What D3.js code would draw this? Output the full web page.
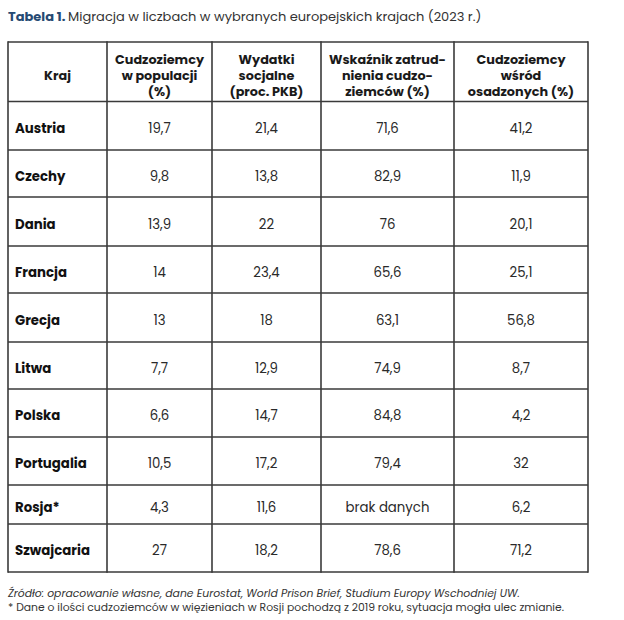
<!DOCTYPE html>
<html>
<head>
<meta charset="utf-8">
<script src="https://cdn.jsdelivr.net/npm/d3@7"></script>
<style>
  body { margin: 0; background: #fff; }
  svg { display: block; }
</style>
</head>
<body>
<svg id="chart" width="624" height="620"></svg>
<script>
// data
const countries = ['Austria', 'Czechy', 'Dania', 'Francja', 'Grecja', 'Litwa', 'Polska', 'Portugalia', 'Rosja*', 'Szwajcaria']
const foreignPop = ['19,7', '9,8', '13,9', '14', '13', '7,7', '6,6', '10,5', '4,3', '27']
const socialSpend = ['21,4', '13,8', '22', '23,4', '18', '12,9', '14,7', '17,2', '11,6', '18,2']
const employment = ['71,6', '82,9', '76', '65,6', '63,1', '74,9', '84,8', '79,4', 'brak danych', '78,6']
const prisoners = ['41,2', '11,9', '20,1', '25,1', '56,8', '8,7', '4,2', '32', '6,2', '71,2']
const headers = [
  ['Kraj'],
  ['Cudzoziemcy', 'w populacji', '(%)'],
  ['Wydatki', 'socjalne', '(proc. PKB)'],
  ['Wskaźnik zatrud-', 'nienia cudzo-', 'ziemców (%)'],
  ['Cudzoziemcy', 'wśród', 'osadzonych (%)']
]

// layout
const font = 'Poppins, "Open Sans", sans-serif'
const colEdges = [8, 107, 212, 321, 454, 588]
const tableTop = 42
const headerH = 59.5
const rowH = [48.5, 47, 49, 47, 49, 47, 48, 48, 39, 48]
const lineColor = '#3a3a3a'

const svg = d3.select('#chart')

// title
const title = svg.append('text')
  .attr('x', 8)
  .attr('y', 21)
  .attr('font-family', font)
  .attr('font-size', 13)
title.append('tspan')
  .attr('font-weight', 700)
  .attr('fill', '#264a73')
  .text('Tabela 1. ')
title.append('tspan')
  .attr('fill', '#333')
  .text('Migracja w liczbach w wybranych europejskich krajach (2023 r.)')

// row edges
const rowTops = [tableTop + headerH]
rowH.forEach((h, i) => rowTops.push(rowTops[i] + h))
const bottom = rowTops[rowTops.length - 1]

const rows = countries.map((c, i) => [c, foreignPop[i], socialSpend[i], employment[i], prisoners[i]])

const g = svg.append('g')

// header text
headers.forEach((lines, ci) => {
  const cx = (colEdges[ci] + colEdges[ci + 1]) / 2
  const cy = tableTop + headerH / 2 + 3.3
  const lh = 16
  g.selectAll('.h' + ci)
    .data(lines)
    .enter().append('text')
    .attr('class', 'h' + ci)
    .attr('x', cx)
    .attr('y', (d, i) => cy + (i - (lines.length - 1) / 2) * lh)
    .attr('dy', '0.35em')
    .attr('text-anchor', 'middle')
    .attr('font-family', font)
    .attr('font-size', 12.8)
    .attr('font-weight', 700)
    .attr('fill', '#1a1a1a')
    .text(d => d)
})

// body cells
const rowG = g.selectAll('.row')
  .data(rows)
  .enter().append('g')
  .attr('class', 'row')
  .attr('transform', (d, i) => `translate(0,${(rowTops[i] + rowTops[i + 1]) / 2})`)

rowG.selectAll('text')
  .data(d => d)
  .enter().append('text')
  .attr('x', (d, i) => i === 0 ? colEdges[0] + 7 : (colEdges[i] + colEdges[i + 1]) / 2)
  .attr('dy', '0.55em')
  .attr('text-anchor', (d, i) => i === 0 ? 'start' : 'middle')
  .attr('font-family', font)
  .attr('font-size', 13.3)
  .attr('font-weight', (d, i) => i === 0 ? 700 : 400)
  .attr('fill', (d, i) => i === 0 ? '#111' : '#2a2a2a')
  .text(d => d)

// grid lines
const hLines = [tableTop].concat(rowTops)
g.selectAll('.hline')
  .data(hLines)
  .enter().append('line')
  .attr('class', 'hline')
  .attr('x1', colEdges[0])
  .attr('x2', colEdges[colEdges.length - 1])
  .attr('y1', d => d)
  .attr('y2', d => d)
  .attr('stroke', lineColor)
  .attr('stroke-width', 1.6)

g.selectAll('.vline')
  .data(colEdges)
  .enter().append('line')
  .attr('class', 'vline')
  .attr('x1', d => d)
  .attr('x2', d => d)
  .attr('y1', tableTop - 0.8)
  .attr('y2', bottom + 0.8)
  .attr('stroke', lineColor)
  .attr('stroke-width', 1.6)

// notes
svg.append('text')
  .attr('x', 8)
  .attr('y', 597)
  .attr('font-family', font)
  .attr('font-size', 10.8)
  .attr('font-style', 'italic')
  .attr('fill', '#333')
  .text('Źródło: opracowanie własne, dane Eurostat, World Prison Brief, Studium Europy Wschodniej UW.')

svg.append('text')
  .attr('x', 8)
  .attr('y', 611)
  .attr('font-family', font)
  .attr('font-size', 10.8)
  .attr('fill', '#333')
  .text('* Dane o ilości cudzoziemców w więzieniach w Rosji pochodzą z 2019 roku, sytuacja mogła ulec zmianie.')
</script>
</body>
</html>
